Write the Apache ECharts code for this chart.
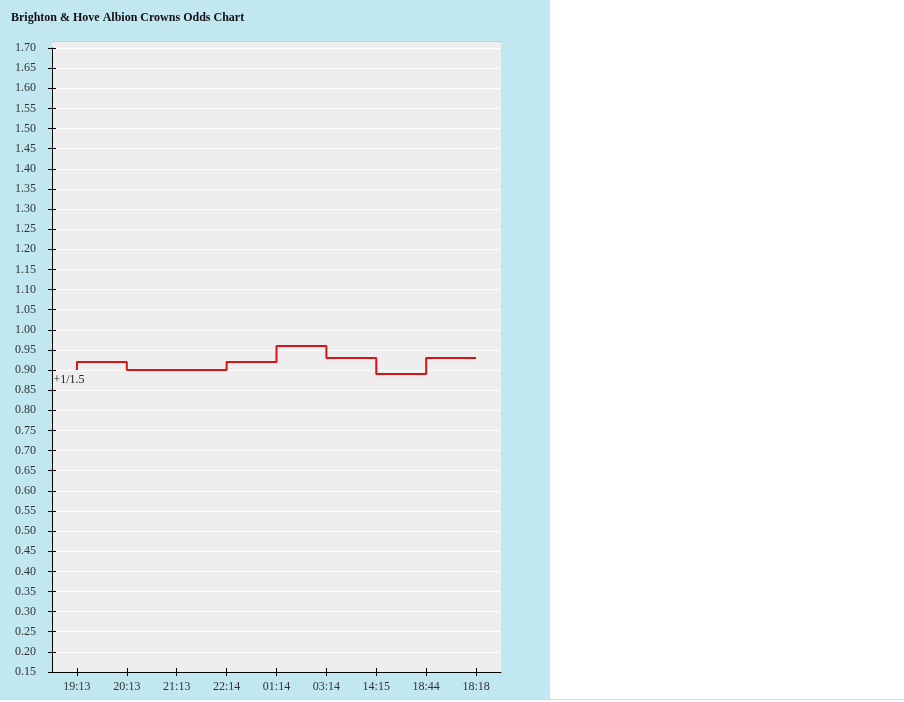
<!DOCTYPE html>
<html>
<head>
<meta charset="utf-8">
<script src="https://cdn.jsdelivr.net/npm/echarts@6/dist/echarts.min.js"></script>
<style>
html,body{margin:0;padding:0;background:#fff;}
#chart{width:904px;height:702px;}
</style>
</head>
<body>
<div id="chart"></div>
<script>
const chartTitle = 'Brighton & Hove Albion Crowns Odds Chart';
const times = ['19:13', '20:13', '21:13', '22:14', '01:14', '03:14', '14:15', '18:44', '18:18'];
const odds = [0.90, 0.92, 0.90, 0.90, 0.92, 0.96, 0.93, 0.89, 0.93];
const startLabel = '+1/1.5';
const yMin = 0.15, yMax = 1.70, yStep = 0.05;

const FONT = '"Liberation Serif", "Times New Roman", serif';
const chart = echarts.init(document.getElementById('chart'), null, {renderer: 'canvas'});

const seriesData = odds.map((v, i) => i === 0
  ? {value: v, label: {show: true, formatter: startLabel}}
  : v);

const yCommon = {
  type: 'value', min: yMin, max: yMax, interval: yStep, position: 'left'
};
const xCommon = {
  type: 'category', data: times, boundaryGap: true, position: 'bottom'
};

chart.setOption({
  animation: false,
  backgroundColor: '#ffffff',
  graphic: [
    {type: 'rect', z: -10, shape: {x: 0, y: 0, width: 550, height: 699}, style: {fill: '#c1e7f0'}},
    {type: 'rect', z: -10, shape: {x: 0, y: 699, width: 904, height: 1}, style: {fill: '#d6d6d6'}},
    {type: 'rect', z: -9, shape: {x: 52, y: 41, width: 449, height: 8}, style: {fill: '#eeeeee'}},
    {type: 'rect', z: -8, shape: {x: 52, y: 41, width: 449, height: 1}, style: {fill: '#bfcfd2'}}
  ],
  title: {
    text: chartTitle, left: 6, top: 7,
    textStyle: {fontFamily: FONT, fontSize: 12, fontWeight: 'bold', color: '#111'}
  },
  grid: {
    left: 52, right: 403, top: 48, bottom: 30,
    show: true, backgroundColor: '#eeeeee', borderWidth: 0
  },
  xAxis: [
    Object.assign({}, xCommon, {
      axisLine: {show: true, lineStyle: {color: '#000', width: 1}},
      axisTick: {show: true, alignWithLabel: true, length: 4, inside: false, lineStyle: {color: '#000'}},
      axisLabel: {margin: 9, fontFamily: FONT, fontSize: 12, color: '#333'},
      splitLine: {show: false}
    }),
    Object.assign({}, xCommon, {
      axisLine: {show: false},
      axisTick: {show: true, alignWithLabel: true, length: 4, inside: true, lineStyle: {color: '#000'}},
      axisLabel: {show: false},
      splitLine: {show: false}
    })
  ],
  yAxis: [
    Object.assign({}, yCommon, {
      axisLine: {show: true, lineStyle: {color: '#000', width: 1}},
      axisTick: {show: true, length: 4, inside: false, lineStyle: {color: '#000'}},
      axisLabel: {margin: 16, fontFamily: FONT, fontSize: 12, color: '#333',
        formatter: v => v.toFixed(2)},
      splitLine: {show: true, lineStyle: {color: '#ffffff', width: 1}}
    }),
    Object.assign({}, yCommon, {
      axisLine: {show: false},
      axisTick: {show: true, length: 4, inside: true, lineStyle: {color: '#000'}},
      axisLabel: {show: false},
      splitLine: {show: false}
    })
  ],
  series: [{
    type: 'line',
    step: 'start',
    data: seriesData,
    xAxisIndex: 0, yAxisIndex: 0,
    showSymbol: true,
    symbol: 'circle',
    symbolSize: 0,
    itemStyle: {color: '#dd1111'},
    lineStyle: {color: '#dd1111', width: 2},
    label: {
      show: false, position: 'bottom', distance: 4, offset: [-8, 0],
      fontFamily: FONT, fontSize: 12, color: '#222'
    },
    emphasis: {disabled: true}
  }]
});
</script>
</body>
</html>
